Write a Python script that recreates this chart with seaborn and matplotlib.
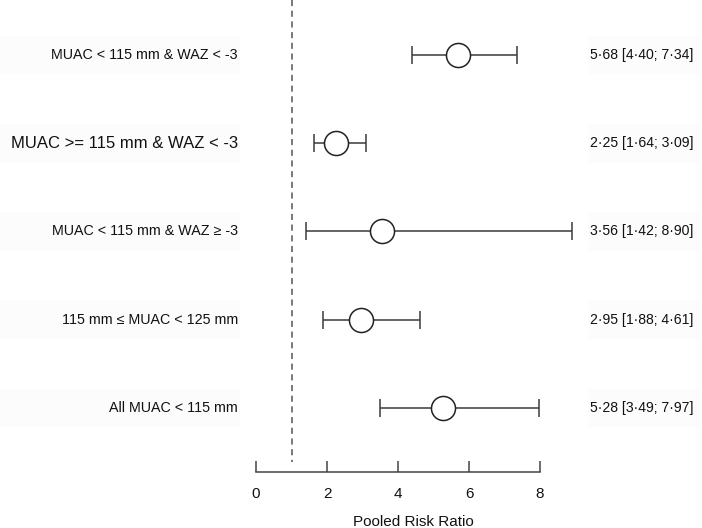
import matplotlib
matplotlib.use("Agg")
import matplotlib.pyplot as plt
import seaborn as sns
import pandas as pd
import numpy as np
from matplotlib.patches import Rectangle

labels = ["MUAC < 115 mm & WAZ < -3",
          "MUAC >= 115 mm & WAZ < -3",
          "MUAC < 115 mm & WAZ \u2265 -3",
          "115 mm \u2264 MUAC < 125 mm",
          "All MUAC < 115 mm"]
estimate = [5.68, 2.25, 3.56, 2.95, 5.28]
lower = [4.40, 1.64, 1.42, 1.88, 3.49]
upper = [7.34, 3.09, 8.90, 4.61, 7.97]
ci_text = ["5\u00b768 [4\u00b740; 7\u00b734]",
           "2\u00b725 [1\u00b764; 3\u00b709]",
           "3\u00b756 [1\u00b742; 8\u00b790]",
           "2\u00b795 [1\u00b788; 4\u00b761]",
           "5\u00b728 [3\u00b749; 7\u00b797]"]
xticks = [0, 2, 4, 6, 8]

df = pd.DataFrame({"label": labels, "est": estimate, "lo": lower, "hi": upper,
                   "row": np.arange(len(labels))})

sns.set_theme(style="white")
plt.rcParams['font.family'] = ['Liberation Sans', 'DejaVu Sans']

W, H = 702, 528
fig = plt.figure(figsize=(W/100, H/100), dpi=100)
x0, x8 = 256, 540
axb = 472
ax = fig.add_axes([x0/W, (H-axb)/H, (x8-x0)/W, axb/H])
ax.set_xlim(0, 8)
ytop = -55/88.25
ybot = (472-55)/88.25
ax.set_ylim(ybot, ytop)
ax.patch.set_alpha(0)

line_col = "#3a3a3a"
# error bars
for _, r in df.iterrows():
    eb = ax.errorbar(r.est, r.row, xerr=[[r.est - r.lo], [r.hi - r.est]], fmt='none',
                     ecolor=line_col, elinewidth=1.1, capsize=6.8, capthick=1.1, zorder=2)
    for art in eb.lines[1] + eb.lines[2]:
        art.set_clip_on(False)
    for coll in eb.lines[2]:
        coll.set_clip_on(False)
sns.scatterplot(data=df, x="est", y="row", ax=ax, s=300, marker='o',
                facecolor='white', edgecolor='#222222', linewidth=1.1, zorder=3,
                legend=False, clip_on=False)

# reference line
ax.plot([1, 1], [ytop, (462-55)/88.25], ls=(0, (4, 3)), color='#555555', lw=1.1, zorder=1)

# labels and CI texts
trans_l = matplotlib.transforms.blended_transform_factory(fig.transFigure, ax.transData)
for i, (lab, ct) in enumerate(zip(labels, ci_text)):
    fs = 12 if i == 1 else 10.3
    ax.add_patch(Rectangle((0, i - 0.22), 240/W, 0.44, transform=trans_l,
                           facecolor='#fcfcfc', edgecolor='none', clip_on=False, zorder=0))
    ax.add_patch(Rectangle((588/W, i - 0.22), 112/W, 0.44, transform=trans_l,
                           facecolor='#fcfcfc', edgecolor='none', clip_on=False, zorder=0))
    ax.text(238/W, i, lab, transform=trans_l, ha='right', va='center', fontsize=fs,
            color='#111111')
    ax.text(590/W, i, ct, transform=trans_l, ha='left', va='center', fontsize=10.1,
            color='#111111')

for s in ['top', 'left', 'right']:
    ax.spines[s].set_visible(False)
ax.spines['bottom'].set_color('#444444')
ax.spines['bottom'].set_linewidth(1.1)
ax.spines['bottom'].set_bounds(0, 8)
ax.set_yticks([])
ax.set_xticks(xticks)
ax.set_xticklabels([str(t) for t in xticks])
ax.tick_params(axis='x', direction='in', length=8, width=1.1, color='#444444',
               pad=11, labelsize=11, labelcolor='#111111', bottom=True)
ax.set_xlabel("Pooled Risk Ratio", fontsize=11, color='#111111')
ax.xaxis.set_label_coords((413 - x0) / (x8 - x0), -(522 - 472) / 472, transform=ax.transAxes)
ax.xaxis.label.set_verticalalignment('center')
ax.set_ylabel("")

fig.savefig("out.png", dpi=100)
